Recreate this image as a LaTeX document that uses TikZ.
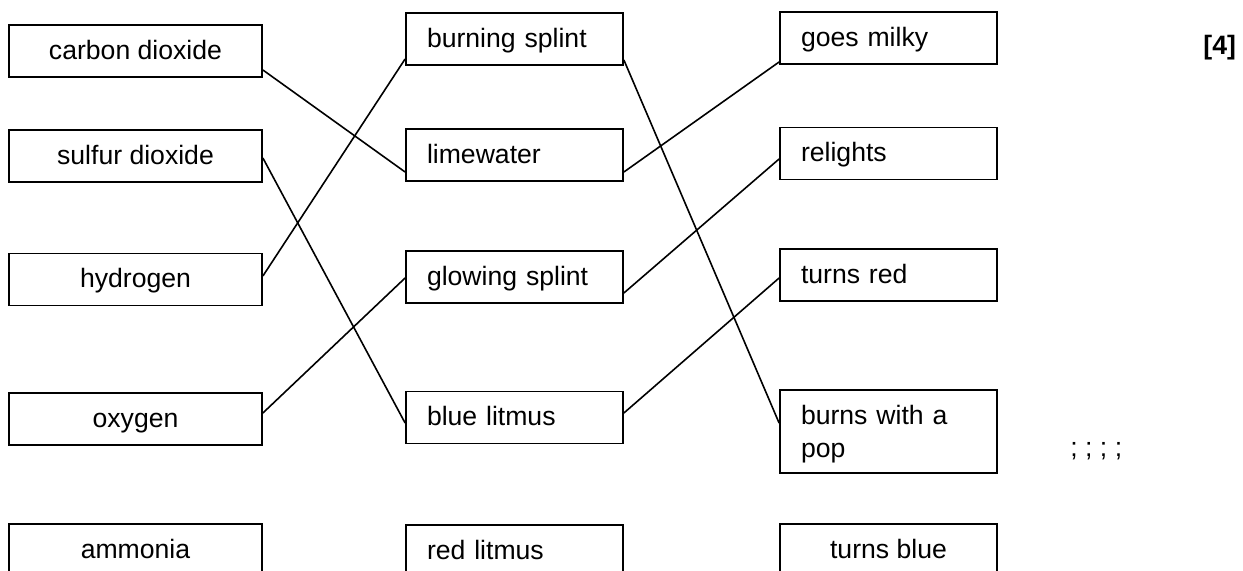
\documentclass[tikz,border=0pt]{standalone}
\usepackage{fontspec}
\setmainfont{Liberation Sans}
\usetikzlibrary{positioning, calc}

\begin{document}
\begin{tikzpicture}[x=0.5pt, y=-0.5pt,
    font=\fontsize{13.3}{16.5}\selectfont,
    box/.style={draw, line width=0.9pt, inner sep=0pt, minimum height=26pt,
      text height=11pt, text depth=2.5pt},
    gasbox/.style={box, minimum width=126.5pt, align=center},
    testbox/.style={box, minimum width=108.5pt, text width=87.5pt, align=left},
    link/.style={line width=0.8pt}]
      \def\colA{135.5}
      \def\colB{514.5}
      \def\colC{888.5}

      \useasboundingbox (0,0) rectangle (1243,571);
      \clip (0,0) rectangle (1243,571);

      % gases
      \node[gasbox] (co2) at (\colA,51) {carbon dioxide};
      \node[gasbox] (so2) at (\colA,156) {sulfur dioxide};
      \node[gasbox] (hyd) at (\colA,279.5) {hydrogen};
      \node[gasbox] (oxy) at (\colA,419) {oxygen};
      \node[gasbox] (amm) at (\colA,550) {ammonia};

      % tests
      \node[testbox] (burn) at (\colB,39) {burning splint};
      \node[testbox] (lime) at (\colB,155) {limewater};
      \node[testbox] (glow) at (\colB,277) {glowing splint};
      \node[testbox] (blue) at (\colB,417.5) {blue litmus};
      \node[testbox] (red) at (\colB,551) {red litmus};

      % results
      \node[testbox] (milky) at (\colC,38) {goes milky};
      \node[testbox] (relight) at (\colC,153.5) {relights};
      \node[testbox] (turnred) at (\colC,275) {turns red};
      \node[testbox, minimum height=41.5pt, text height=11pt, text depth=17.5pt]
        (pop) at (\colC,431.5) {burns with a\\pop};
      \node[gasbox, minimum width=108.5pt] (turnblue) at (\colC,550) {turns blue};

      \node[anchor=base west, inner sep=0pt, font=\fontsize{13.3}{16.5}\selectfont\bfseries]
        (marks) at (1203,54.5) {[4]};
      \node[anchor=base west, inner sep=0pt] (semis) at (1070,457) {; ; ; ;};

      % matching lines
      \draw[link] ($(co2.east)+(0,19)$) -- ($(lime.west)+(0,17)$);
      \draw[link] ($(so2.east)+(0,2)$) -- ($(blue.west)+(0,5.5)$);
      \draw[link] ($(hyd.east)+(0,-3.5)$) -- ($(burn.west)+(0,20)$);
      \draw[link] ($(oxy.east)+(0,-6)$) -- ($(glow.west)+(0,1)$);
      \draw[link] ($(lime.east)+(0,17)$) -- ($(milky.west)+(0,24)$);
      \draw[link] ($(burn.east)+(0,21)$) -- ($(pop.west)+(0,-8.5)$);
      \draw[link] ($(glow.east)+(0,16)$) -- ($(relight.west)+(0,5.5)$);
      \draw[link] ($(blue.east)+(0,-4.5)$) -- ($(turnred.west)+(0,3)$);
\end{tikzpicture}
\end{document}
